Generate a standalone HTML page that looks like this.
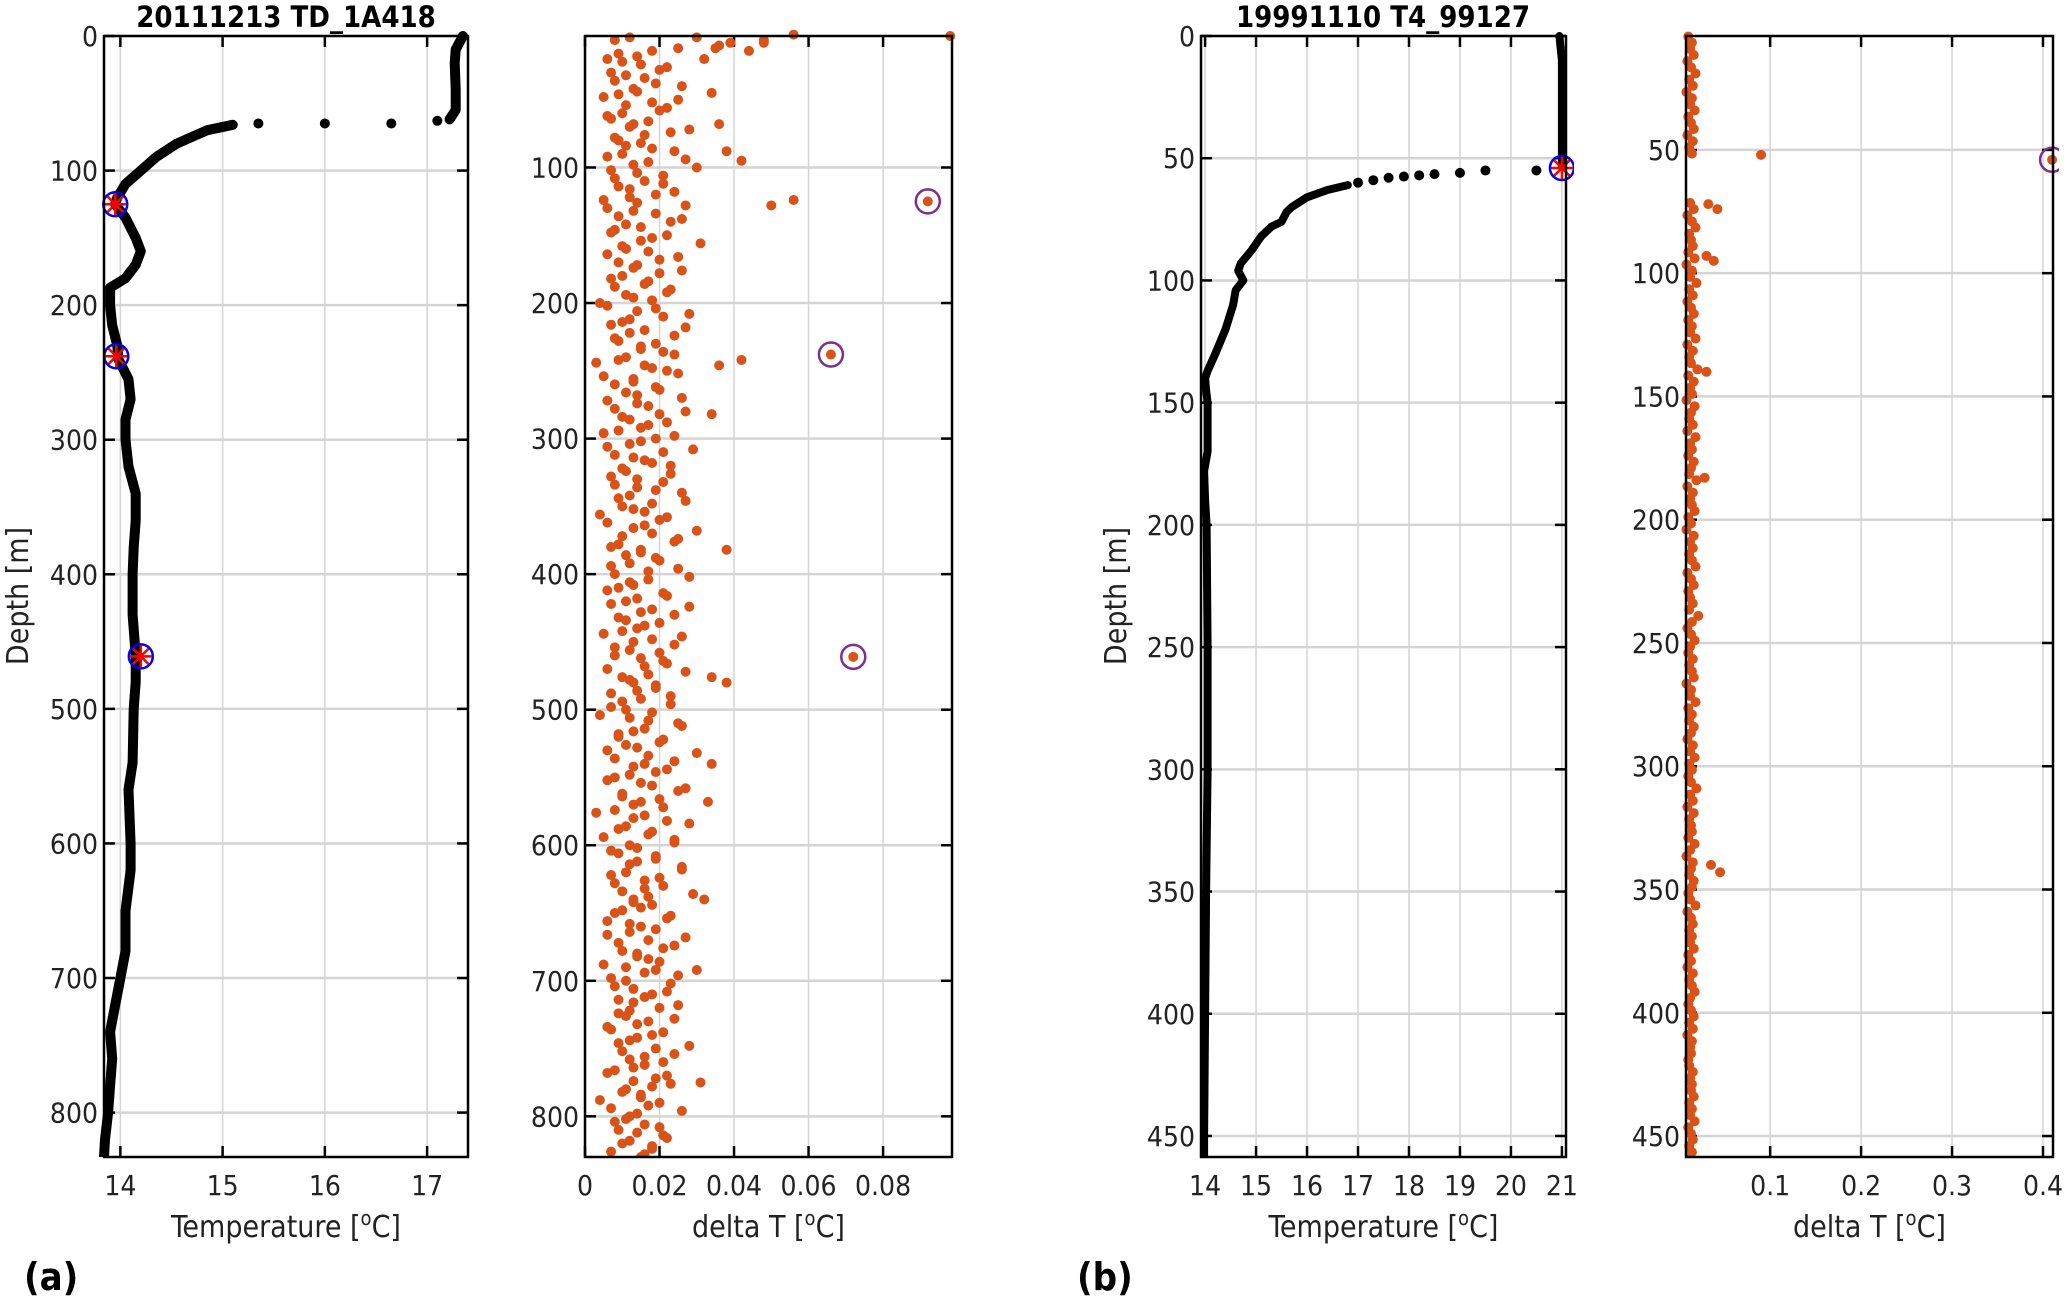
<!DOCTYPE html>
<html><head><meta charset="utf-8"><style>
html,body{margin:0;padding:0;background:#fff;}
svg{display:block;font-family:"DejaVu Sans Condensed","DejaVu Sans","Liberation Sans",sans-serif;}
</style></head><body>
<svg id="fig" width="2067" height="1299" viewBox="0 0 2067 1299" xmlns="http://www.w3.org/2000/svg"></svg>
<script>
// ---------- DATA ----------
const prof1Depth=[0,10,20,40,55,62,66,70,75,80,90,100,110,120,125,135,150,160,170,180,187,200,215,230,240,255,270,285,300,320,340,360,380,400,430,460,480,500,540,560,600,620,650,680,700,720,740,760,780,800,820,833];
const prof1Temp=[17.35,17.28,17.27,17.28,17.28,17.22,15.1,14.85,14.7,14.55,14.35,14.2,14.05,13.97,13.95,14.05,14.15,14.2,14.15,14.05,13.9,13.9,13.92,13.97,13.98,14.08,14.1,14.05,14.05,14.08,14.15,14.15,14.13,14.12,14.12,14.15,14.15,14.13,14.12,14.08,14.1,14.1,14.05,14.05,14.0,13.95,13.9,13.92,13.9,13.88,13.85,13.84];
const prof1Sparse=[[17.1,63],[16.65,65],[16.0,65],[15.35,65]];
const prof1Flags=[[13.95,125],[13.96,238],[14.2,461]];
const dt1Start=4, dt1Step=4;
const dt1A=[12,48,25,9,6,15,20,11,8,26,14,5,18,22,10,7,13,28,16,9,11,24,6,17,30,14,8,21,12,19,5,27,13,9,23,15,7,18,31,11,6,20,14,26,10,17,8,22,13,4,19,28,12,7,16,24,9,15,21,11,3,18,25,13,8,20,14,6,17,27,10,22,15,5,19,12,29,8,16,23,11,7,21,14,26,9,18,13,4,20,16,30,10,24,7,15,19,12,25,8,17,13,6,22,11,28,15,9,20,14,5,18,24,12,8,21,16,27,10,13,19,7,15,23,11,4,17,26,13,9,20,14,30,8,16,22,12,6,18,25,10,15,21,3,13,28,9,17,24,12,7,19,14,26,11,20,8,16,29,13,18,10,23,6,15,12,27,9,21,14,17,5,19,25,11,8,22,16,13,20,9,24,14,7,18,12,28,10,16,21,13,6,19,23,11,15,4,17,26,12,8,20,14,22,10,18,16];
const dt1B=[8,36,18,14,10,22,7,16,19,13,9,25,11,20,6,17,12,23,8,15,18,10,27,13,7,21,16,9,24,12,14,6,19,26,11,8,22,15,10,17,25,9,13,20,7,16,23,11,18,6,14,21,10,27,12,8,19,15,24,9,16,22,5,13,19,11,26,14,8,20,12,17,9,24,15,6,21,13,18,10,23,14,8,19,12,27,10,16,22,6,13,18,25,9,15,11,20,7,17,28,12,9,21,14,7,18,24,11,16,10,26,13,8,20,15,22,6,17,12,19,14,23,10,7,18,12,25,16,9,21,11,6,17,24,13,19,8,15,27,10,20,13,8,16,22,11,18,5,24,14,9,19,12,26,7,16,21,10,17,13,15,8,22,12,19,6,17,24,10,14,20,11,16,7,23,13,18,9,25,12,11,17,6,21,14,9,19,24,12,16,8,22,13,18,10,15,20,7,14,11,16,9,21,12,18,7,15];
const dt1Extra=[[98,3],[56,2],[48,6],[30,4],[44,14],[39,8],[35,12],[32,20],[34,45],[36,68],[38,88],[42,95],[56,124],[50,128],[92,125],[42,242],[66,238],[36,246],[38,382],[34,282],[72,461],[38,480],[34,476],[31,775],[30,692],[32,640],[33,568],[34,540]];
const dt1Flags=[[92,125],[66,238],[72,461]];

const prof2Depth=[0,10,50,53,61,63,66,70,72,76,78,82,88,93,96,100,104,110,120,130,137,140,145,150,170,178,190,200,250,300,350,400,450,458];
const prof2Temp=[20.95,21.0,21.0,21.0,16.8,16.4,16.0,15.7,15.6,15.5,15.3,15.1,14.9,14.7,14.65,14.75,14.6,14.55,14.4,14.2,14.05,14.0,14.02,14.05,14.05,13.98,14.0,14.03,14.05,14.05,14.02,14.0,13.98,13.98];
const prof2Sparse=[[20.5,55],[19.5,55],[19.0,56],[18.5,56.5],[18.2,57],[17.9,57.5],[17.6,58],[17.3,59],[17.0,60]];
const prof2Flags=[[21.0,54]];
const dt2Start=4, dt2Step=2.5;
const dt2=[10,14,12,16,9,13,18,11,15,8,14,12,17,10,13,16,9,15,11,14,null,null,null,null,null,null,null,12,16,9,14,18,11,13,15,10,17,8,14,12,19,11,15,9,13,16,10,14,12,18,9,15,11,13,20,10,16,12,14,8,17,13,11,15,9,18,12,14,10,16,13,11,19,9,15,12,14,17,10,13,8,16,12,15,11,14,18,9,13,16,10,12,15,11,21,14,9,13,17,12,10,15,11,14,16,8,13,12,18,10,14,11,16,13,9,15,12,17,11,14,10,13,19,12,15,9,16,11,13,14,10,17,12,8,15,13,11,16,14,10,12,18,9,13,15,11,14,12,16,10,13,9,15,11,14,17,12,10,13,16,11,15,9,14,12,13,10,11,15,12,14,13,16,11,14,12,17,10,13,15,11,14,12];
const dt2Extra=[[410,54],[90,52],[32,72],[42,74],[38,95],[30,93],[45,343],[35,340],[30,140],[28,183]];
const dt2Flags=[[410,54]];

const p1XTicks=[14,15,16,17], p1YTicks=[0,100,200,300,400,500,600,700,800];
const p2XTicks=[0,0.02,0.04,0.06,0.08], p2XLabels=["0","0.02","0.04","0.06","0.08"], p2YTicks=[100,200,300,400,500,600,700,800];
const p3XTicks=[14,15,16,17,18,19,20,21], p3YTicks=[0,50,100,150,200,250,300,350,400,450];
const p4XTicks=[0.1,0.2,0.3,0.4], p4XLabels=["0.1","0.2","0.3","0.4"], p4YTicks=[50,100,150,200,250,300,350,400,450];

// ---------- DRAW ----------
const NS="http://www.w3.org/2000/svg";
const svg=document.getElementById('fig');
function mk(tag,attrs,parent){const e=document.createElementNS(NS,tag);for(const k in attrs)e.setAttribute(k,attrs[k]);(parent||svg).appendChild(e);return e;}
function txt(s,x,y,size,anchor,parent,weight){const t=mk('text',{x:x,y:y,'font-size':size,'text-anchor':anchor,fill:'#222'},parent);if(weight)t.setAttribute('font-weight',weight);t.textContent=s;return t;}

function axes(cfg){
  const g=mk('g',{});
  
  
  const sx=v=>cfg.L+(v-cfg.x0)/(cfg.x1-cfg.x0)*(cfg.R-cfg.L);
  const sy=v=>cfg.T+(v-cfg.y0)/(cfg.y1-cfg.y0)*(cfg.B-cfg.T);
  cfg.xt.forEach((v,i)=>{
    const x=sx(v);
    const gl=mk('line',{x1:x,x2:x,y1:cfg.T,y2:cfg.B,stroke:'#d4d4d4','stroke-width':1.5},g);
    
    mk('line',{x1:x,x2:x,y1:cfg.B,y2:cfg.B-11,stroke:'#000','stroke-width':2.5},g);
    mk('line',{x1:x,x2:x,y1:cfg.T,y2:cfg.T+11,stroke:'#000','stroke-width':2.5},g);
    const t=txt(cfg.xl?cfg.xl[i]:String(v),x,cfg.B+38,28,'middle',g);
    
  });
  cfg.yt.forEach(v=>{
    const y=sy(v);
    const gl=mk('line',{x1:cfg.L,x2:cfg.R,y1:y,y2:y,stroke:'#d4d4d4','stroke-width':2.5},g);
    
    mk('line',{x1:cfg.L,x2:cfg.L+11,y1:y,y2:y,stroke:'#000','stroke-width':2.5},g);
    mk('line',{x1:cfg.R,x2:cfg.R-11,y1:y,y2:y,stroke:'#000','stroke-width':2.5},g);
    const t=txt(String(v),cfg.L-6,y+10,28,'end',g);
    
  });
  const xl=txt(cfg.xlabel,(cfg.L+cfg.R)/2,cfg.B+80,30,'middle',g);
  
  xl.innerHTML=cfg.xlabel;
  return {g,sx,sy};
}
function frame(cfg,g){
  const r=mk('rect',{x:cfg.L,y:cfg.T,width:cfg.R-cfg.L,height:cfg.B-cfg.T,fill:'none',stroke:'#000','stroke-width':2.5},g);
  
}
function profile(cfg,depth,temp,sparse,flags,sw){
  const a=axes(cfg);
  const clip='c'+cfg.name;
  const cp=mk('clipPath',{id:clip},a.g);mk('rect',{x:cfg.L-8,y:cfg.T-8,width:cfg.R-cfg.L+16,height:cfg.B-cfg.T+8},cp);
  const dg=mk('g',{'clip-path':'url(#'+clip+')'},a.g);
  const pts=depth.map((d,i)=>a.sx(temp[i]).toFixed(1)+','+a.sy(d).toFixed(1));
  const head=depth.findIndex((d,i)=>i>0&&Math.abs(temp[i]-temp[i-1])>1);
  const seg1=pts.slice(0,head), seg2=pts.slice(head);
  [seg1,seg2].forEach(s=>{const pl=mk('polyline',{points:s.join(' '),fill:'none',stroke:'#000','stroke-width':sw,'stroke-linejoin':'round','stroke-linecap':'round'},dg);
    });
  sparse.forEach(p=>{const c=mk('circle',{cx:a.sx(p[0]),cy:a.sy(p[1]),r:5,fill:'#000'},dg);
    });
  flags.forEach(p=>{
    const x=a.sx(p[0]),y=a.sy(p[1]);
    const fg=mk('g',{},dg);
    
    mk('circle',{cx:x,cy:y,r:12,fill:'none',stroke:'#0000ff','stroke-width':2.5},fg);
    for(let k=0;k<4;k++){const ang=k*Math.PI/4;mk('line',{x1:x-11*Math.cos(ang),y1:y-11*Math.sin(ang),x2:x+11*Math.cos(ang),y2:y+11*Math.sin(ang),stroke:'#ff0000','stroke-width':2.5},fg);}
  });
  frame(cfg,a.g);
  return a;
}
function scatter(cfg,start,step,arrs,extra,flags){
  const a=axes(cfg);
  const clip='c'+cfg.name;
  const cp=mk('clipPath',{id:clip},a.g);mk('rect',{x:cfg.L-6,y:cfg.T-6,width:cfg.R-cfg.L+12,height:cfg.B-cfg.T+6},cp);
  const dg=mk('g',{'clip-path':'url(#'+clip+')'},a.g);
  function dot(v,d){const c=mk('circle',{cx:a.sx(v/1000),cy:a.sy(d),r:5,fill:'#d95319'},dg);
    }
  arrs.forEach((arr,j)=>arr.forEach((v,i)=>{if(v!==null)dot(v,start+j*step/2+i*step);}));
  extra.forEach(p=>dot(p[0],p[1]));
  flags.forEach(p=>{const c=mk('circle',{cx:a.sx(p[0]/1000),cy:a.sy(p[1]),r:12,fill:'none',stroke:'#7e2f8e','stroke-width':2.5},dg);
    });
  frame(cfg,a.g);
  return a;
}
const TL='Temperature [<tspan baseline-shift="super" font-size="20">o</tspan>C]';
const DL='delta T [<tspan baseline-shift="super" font-size="20">o</tspan>C]';
const B=1157,T=36;
profile({name:'temp-panel-a',L:104,R:468,T:T,B:B,x0:13.84,x1:17.40,y0:0,y1:833,xt:p1XTicks,yt:p1YTicks,xlabel:TL},prof1Depth,prof1Temp,prof1Sparse,prof1Flags,10);
scatter({name:'delta-panel-a',L:585,R:952,T:T,B:B,x0:0,x1:0.0985,y0:3,y1:830,xt:p2XTicks,xl:p2XLabels,yt:p2YTicks,xlabel:DL},dt1Start,dt1Step,[dt1A,dt1B],dt1Extra,dt1Flags);
profile({name:'temp-panel-b',L:1201,R:1566,T:T,B:B,x0:13.92,x1:21.08,y0:0,y1:458.6,xt:p3XTicks,yt:p3YTicks,xlabel:TL},prof2Depth,prof2Temp,prof2Sparse,prof2Flags,8);
scatter({name:'delta-panel-b',L:1686,R:2053,T:T,B:B,x0:0.0075,x1:0.411,y0:3.8,y1:458.5,xt:p4XTicks,xl:p4XLabels,yt:p4YTicks,xlabel:DL},dt2Start,dt2Step,[dt2],dt2Extra,dt2Flags);

let t=txt('20111213 TD_1A418',286,27,29,'middle',null,'bold');t.setAttribute('fill','#000');

t=txt('19991110 T4_99127',1383,27,29,'middle',null,'bold');t.setAttribute('fill','#000');

[[24,'ylabel-a'],[1122,'ylabel-b']].forEach(p=>{const yl=txt('Depth [m]',0,0,30,'middle');
  yl.setAttribute('transform','translate('+(p[0]+4)+',596) rotate(-90)');
  });
t=txt('(a)',24,1290,38,'start',null,'bold');t.setAttribute('fill','#000');

t=txt('(b)',1077,1290,38,'start',null,'bold');t.setAttribute('fill','#000');

</script>
</body></html>
